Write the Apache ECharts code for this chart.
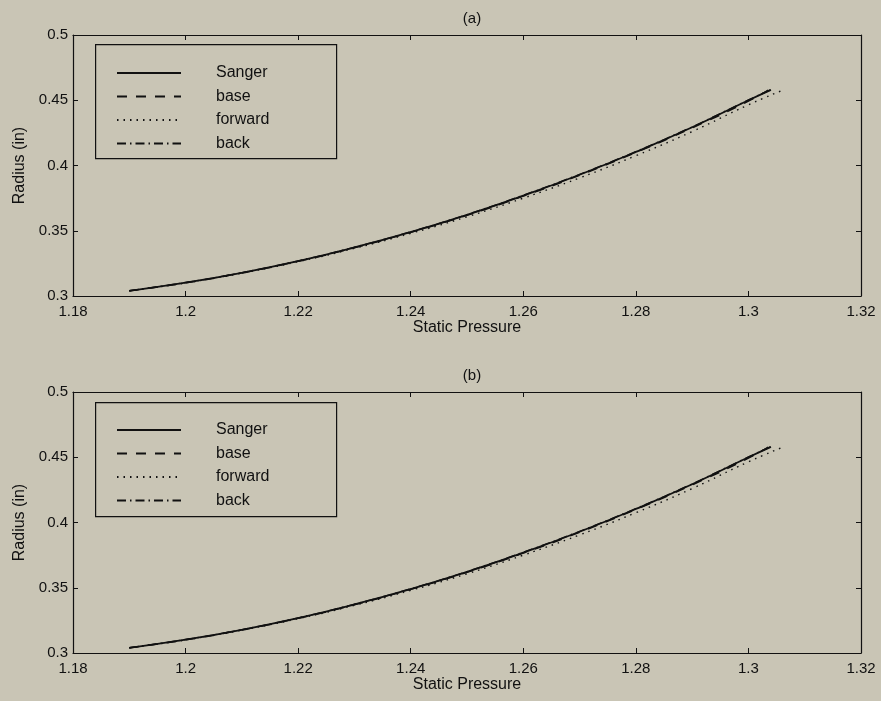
<!DOCTYPE html>
<html>
<head>
<meta charset="utf-8">
<script src="https://cdn.jsdelivr.net/npm/echarts@6/dist/echarts.min.js"></script>
<style>
html,body{margin:0;padding:0;background:#c9c5b5;}
#c{width:881px;height:701px;}
</style>
</head>
<body>
<div id="c"></div>
<script>
// Data
const seriesNames = ['Sanger', 'base', 'forward', 'back'];
const panelTitles = ['(a)', '(b)'];
const xTicks = [1.18, 1.2, 1.22, 1.24, 1.26, 1.28, 1.3, 1.32];
const yTicks = [0.3, 0.35, 0.4, 0.45, 0.5];

const sangerX = [1.190, 1.200, 1.210, 1.220, 1.230, 1.240, 1.250, 1.260, 1.270, 1.280, 1.290, 1.300, 1.304];
const sangerY = [0.304, 0.3102, 0.3178, 0.3268, 0.3372, 0.3490, 0.3622, 0.3769, 0.3929, 0.4104, 0.4293, 0.4500, 0.4580];

const baseX = [1.190, 1.200, 1.210, 1.220, 1.230, 1.240, 1.250, 1.260, 1.270, 1.280, 1.290, 1.300, 1.3035];
const baseY = [0.304, 0.3101, 0.3177, 0.3266, 0.3370, 0.3488, 0.3619, 0.3765, 0.3925, 0.4100, 0.4288, 0.4493, 0.4578];

const forwardX = [1.190, 1.200, 1.210, 1.220, 1.230, 1.240, 1.250, 1.260, 1.270, 1.280, 1.290, 1.300, 1.306];
const forwardY = [0.304, 0.3100, 0.3175, 0.3263, 0.3365, 0.3480, 0.3607, 0.3750, 0.3905, 0.4075, 0.4260, 0.4465, 0.4575];

const backX = [1.190, 1.200, 1.210, 1.220, 1.230, 1.240, 1.250, 1.260, 1.270, 1.280, 1.290, 1.300, 1.304];
const backY = [0.304, 0.3103, 0.3179, 0.3269, 0.3374, 0.3492, 0.3624, 0.3772, 0.3932, 0.4107, 0.4296, 0.4502, 0.4582];

const xsList = [sangerX, baseX, forwardX, backX];
const ysList = [sangerY, baseY, forwardY, backY];
const lineTypes = ['solid', [10, 9], [1.5, 5], [9, 4, 1.5, 4]];
const lineWidths = [1.8, 1.5, 1.4, 1.4];

const FONT = 'Liberation Sans, Arial, Helvetica, sans-serif';
const INK = '#111';
const BG = '#c9c5b5';
const grids = [
  {left: 73, top: 35, width: 788, height: 261},
  {left: 73, top: 392, width: 788, height: 261}
];

const fmt = v => String(+v.toFixed(2));
const xAxes = [], yAxes = [], series = [], titles = [], legends = [], graphics = [];
grids.forEach((g, gi) => {
  xAxes.push({
    type: 'value', gridIndex: gi, position: 'bottom', min: xTicks[0], max: xTicks[xTicks.length - 1], interval: 0.02,
    name: 'Static Pressure', nameLocation: 'middle', nameGap: 24,
    nameTextStyle: {fontFamily: FONT, fontSize: 16, color: INK},
    axisLine: {onZero: false, lineStyle: {color: INK, width: 1.2}},
    axisTick: {inside: true, length: 5, lineStyle: {color: INK}},
    axisLabel: {fontFamily: FONT, fontSize: 15, color: INK, margin: 8, formatter: fmt},
    splitLine: {show: false}
  });
  xAxes.push({
    type: 'value', gridIndex: gi, position: 'top', min: xTicks[0], max: xTicks[xTicks.length - 1], interval: 0.02,
    axisLine: {onZero: false, lineStyle: {color: INK, width: 1.2}},
    axisTick: {inside: true, length: 5, lineStyle: {color: INK}},
    axisLabel: {show: false}, splitLine: {show: false}
  });
  yAxes.push({
    type: 'value', gridIndex: gi, position: 'left', min: yTicks[0], max: yTicks[yTicks.length - 1], interval: 0.05,
    name: 'Radius (in)', nameLocation: 'middle', nameGap: 45, nameRotate: 90,
    nameTextStyle: {fontFamily: FONT, fontSize: 16, color: INK},
    axisLine: {onZero: false, lineStyle: {color: INK, width: 1.2}},
    axisTick: {inside: true, length: 5, lineStyle: {color: INK}},
    axisLabel: {fontFamily: FONT, fontSize: 15, color: INK, margin: 5, formatter: fmt},
    splitLine: {show: false}
  });
  yAxes.push({
    type: 'value', gridIndex: gi, position: 'right', min: yTicks[0], max: yTicks[yTicks.length - 1], interval: 0.05,
    axisLine: {onZero: false, lineStyle: {color: INK, width: 1.2}},
    axisTick: {inside: true, length: 5, lineStyle: {color: INK}},
    axisLabel: {show: false}, splitLine: {show: false}
  });
  seriesNames.forEach((nm, si) => {
    series.push({
      name: nm, type: 'line', xAxisIndex: gi * 2, yAxisIndex: gi * 2,
      data: xsList[si].map((x, k) => [x, ysList[si][k]]),
      showSymbol: false, symbol: 'none', smooth: true, animation: false,
      lineStyle: {color: INK, width: lineWidths[si], type: lineTypes[si]},
      itemStyle: {color: INK}, z: 10 - si
    });
  });
  titles.push({
    text: panelTitles[gi], left: g.left + g.width / 2, top: g.top - 29, textAlign: 'center',
    textStyle: {fontFamily: FONT, fontSize: 15, fontWeight: 'normal', color: INK}
  });
  legends.push({
    orient: 'vertical', left: 111, top: g.top + 25, itemWidth: 64, itemHeight: 14, itemGap: 7.5,
    data: seriesNames, selectedMode: false,
    itemStyle: {color: 'rgba(0,0,0,0)', borderWidth: 0, opacity: 0},
    textStyle: {fontFamily: FONT, fontSize: 16, color: INK, padding: [0, 0, 0, 30]}
  });
  graphics.push({
    type: 'rect', left: 95, top: g.top + 9 + (gi ? 1 : 0),
    shape: {width: 241, height: 114},
    style: {fill: BG, stroke: INK, lineWidth: 1.2}, z: 1
  });
});

const chart = echarts.init(document.getElementById('c'), null, {renderer: 'canvas'});
chart.setOption({
  backgroundColor: BG,
  animation: false,
  title: titles,
  grid: grids,
  xAxis: xAxes,
  yAxis: yAxes,
  legend: legends,
  graphic: graphics,
  series: series
});
</script>
</body>
</html>
